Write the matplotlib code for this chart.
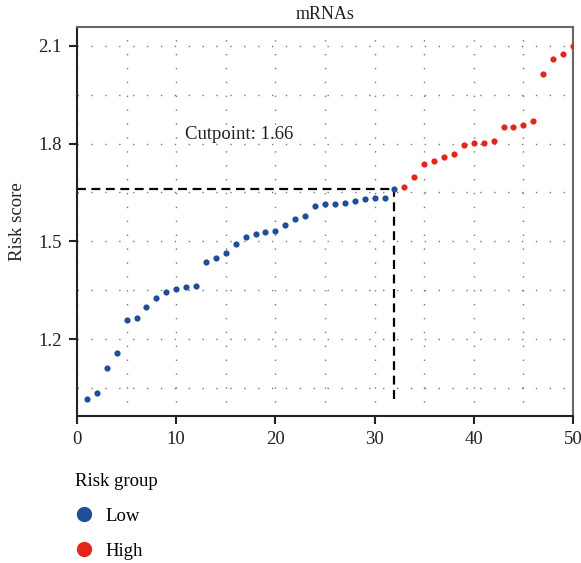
import matplotlib
matplotlib.use("Agg")
import matplotlib.pyplot as plt
from matplotlib.lines import Line2D
from matplotlib.ticker import MultipleLocator

plt.rcParams['font.family'] = ['Liberation Serif', 'DejaVu Serif']

# risk scores sorted, patient index 1..50
patients = list(range(1, 51))
risk_score = [1.015, 1.034, 1.110, 1.157, 1.258, 1.265, 1.300, 1.327, 1.345, 1.353,
              1.361, 1.364, 1.438, 1.450, 1.464, 1.491, 1.513, 1.523, 1.528, 1.531,
              1.551, 1.568, 1.577, 1.608, 1.614, 1.616, 1.618, 1.623, 1.630, 1.632,
              1.633, 1.660, 1.666, 1.698, 1.736, 1.748, 1.759, 1.768, 1.796, 1.801,
              1.802, 1.807, 1.852, 1.852, 1.856, 1.868, 2.015, 2.061, 2.075, 2.100]
cutpoint = 1.66
n_low = 32
groups = ['Low', 'High']
colors = {'Low': '#1E4F98', 'High': '#E3261C'}

fig = plt.figure(figsize=(5.81, 5.63), dpi=100)
ax = fig.add_axes([0.1325, 0.2611, 0.8537, 0.691])

low_x, low_y = patients[:n_low], risk_score[:n_low]
high_x, high_y = patients[n_low:], risk_score[n_low:]
ax.scatter(low_x, low_y, s=20, color=colors['Low'], zorder=3, linewidths=0)
ax.scatter(high_x, high_y, s=20, color=colors['High'], zorder=3, linewidths=0)

# cutpoint guide lines
ax.plot([0, n_low], [cutpoint, cutpoint], color='black', ls=(0, (4, 2.5)), lw=1.6, zorder=2)
ax.plot([n_low, n_low], [min(risk_score), cutpoint], color='black', ls=(0, (4, 2.5)), lw=1.6, zorder=2)
ax.text(16.3, 1.827, f'Cutpoint: {cutpoint}', ha='center', va='center', fontsize=13.5, color='#222222')

ax.set_xlim(0, 50)
ax.set_ylim(0.964, 2.158)
ax.xaxis.set_major_locator(MultipleLocator(10))
ax.xaxis.set_minor_locator(MultipleLocator(5))
ax.yaxis.set_major_locator(MultipleLocator(0.3))
ax.yaxis.set_minor_locator(MultipleLocator(0.15))
ax.set_yticks([1.2, 1.5, 1.8, 2.1])
ax.set_yticklabels(['1.2', '1.5', '1.8', '2.1'])
ax.tick_params(which='major', direction='out', length=6, width=1.5, labelsize=13.5,
               colors='#222222', pad=5)
ax.tick_params(which='minor', length=0)
ax.grid(True, which='both', color='#777777', ls=(0, (1, 9)), lw=1)

for side in ['left', 'bottom']:
    ax.spines[side].set_color('#222222')
    ax.spines[side].set_linewidth(1.5)
for side in ['top', 'right']:
    ax.spines[side].set_color('#666666')
    ax.spines[side].set_linewidth(1.5)

ax.set_title('mRNAs', fontsize=13, pad=6, color='#222222')
ax.set_ylabel('Risk score', fontsize=13.5, color='#222222', labelpad=9)

handles = [Line2D([], [], marker='o', ls='none', markersize=10, color=colors[g]) for g in groups]
fig.legend(handles, groups, title='Risk group', loc='upper left', bbox_to_anchor=(0.1, 0.19),
           frameon=False, fontsize=13.5, title_fontsize=13.5, alignment='left',
           handletextpad=0.6, labelspacing=0.95, handlelength=1.0)

fig.savefig('out.png', dpi=100)
